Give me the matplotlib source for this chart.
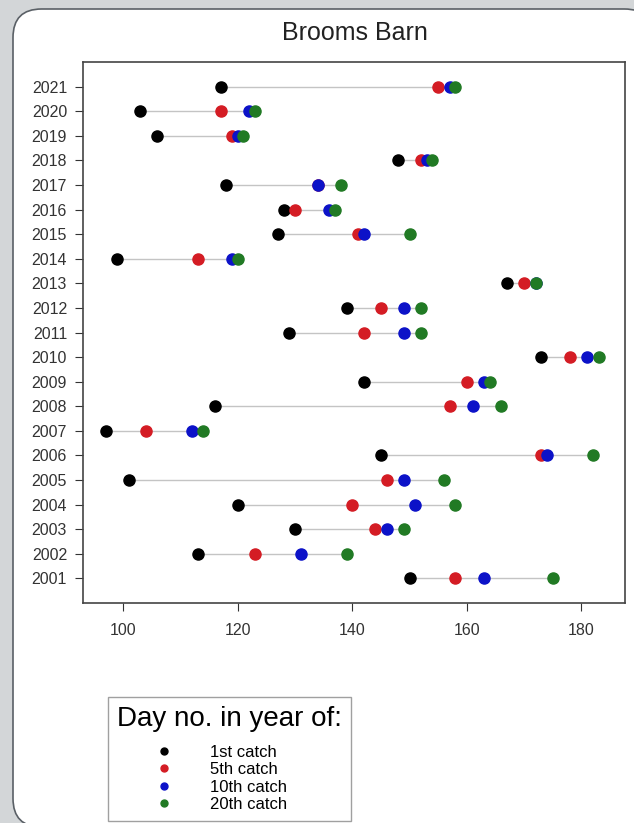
import matplotlib
matplotlib.use("Agg")
import matplotlib.pyplot as plt
from matplotlib.patches import FancyBboxPatch
from matplotlib.lines import Line2D

plt.rcParams['font.family'] = ['Liberation Sans', 'DejaVu Sans']

years = list(range(2001, 2022))
# day number in year of 1st, 5th, 10th and 20th catch
first = [150, 113, 130, 120, 101, 145, 97, 116, 142, 173, 129,
         139, 167, 99, 127, 128, 118, 148, 106, 103, 117]
fifth = [158, 123, 144, 140, 146, 173, 104, 157, 160, 178, 142,
         145, 170, 113, 141, 130, 134, 152, 119, 117, 155]
tenth = [163, 131, 146, 151, 149, 174, 112, 161, 163, 181, 149,
         149, 172, 119, 142, 136, 134, 153, 120, 122, 157]
twentieth = [175, 139, 149, 158, 156, 182, 114, 166, 164, 183, 152,
             152, 172, 120, 150, 137, 138, 154, 121, 123, 158]

series = [first, fifth, tenth, twentieth]
labels = ['1st catch', '5th catch', '10th catch', '20th catch']
colors = ['#000000', '#d41c24', '#0c12c8', '#217a24']

fig = plt.figure(figsize=(6.34, 8.23), dpi=100)
fig.patch.set_facecolor('#d3d6d8')

card = FancyBboxPatch((13 / 634, -4 / 823), 640 / 634, 818 / 823,
                      boxstyle="round,pad=0,rounding_size=0.045",
                      transform=fig.transFigure, facecolor='white',
                      edgecolor='#5a6066', linewidth=1.2, zorder=-10,
                      mutation_aspect=634 / 823)
fig.patches.append(card)

ax = fig.add_axes([83 / 634, 1 - 603 / 823, 542 / 634, 541 / 823])
ax.set_facecolor('white')

for y, a, b in zip(years, first, twentieth):
    ax.plot([a, b], [y, y], color='#c4c4c4', lw=1.0, zorder=1)

for vals, c in zip(series, colors):
    ax.plot(vals, years, 'o', color=c, markersize=8, zorder=3,
            linestyle='none')

ax.set_xlim(93, 187.6)
ax.set_ylim(2000.0, 2022.0)
ax.set_xticks([100, 120, 140, 160, 180])
ax.set_yticks(years)
ax.tick_params(labelsize=11.5, colors='#333333', length=5.5)
ax.tick_params(axis='x', pad=9)
ax.tick_params(axis='y', pad=6)
for s in ax.spines.values():
    s.set_color('#444444')
    s.set_linewidth(1.2)

fig.text(355 / 634, 1 - 33 / 823, 'Brooms Barn', ha='center', va='center',
         fontsize=18, color='#222222')

handles = [Line2D([], [], marker='o', color=c, linestyle='none', markersize=5)
           for c in colors]
leg = fig.legend(handles, labels, loc='upper left',
                 bbox_to_anchor=(108 / 634, 1 - 697 / 823),
                 borderaxespad=0, alignment='left',
                 title='Day no. in year of:', title_fontsize=20,
                 fontsize=12, frameon=True, fancybox=False,
                 edgecolor='#888888', labelspacing=0.15,
                 handletextpad=0.0, borderpad=0.55, handlelength=5.6)
leg.get_frame().set_linewidth(1.0)
leg._legend_box.sep = 9  # extra gap under the title

fig.savefig('out.png', dpi=100, facecolor=fig.get_facecolor())
